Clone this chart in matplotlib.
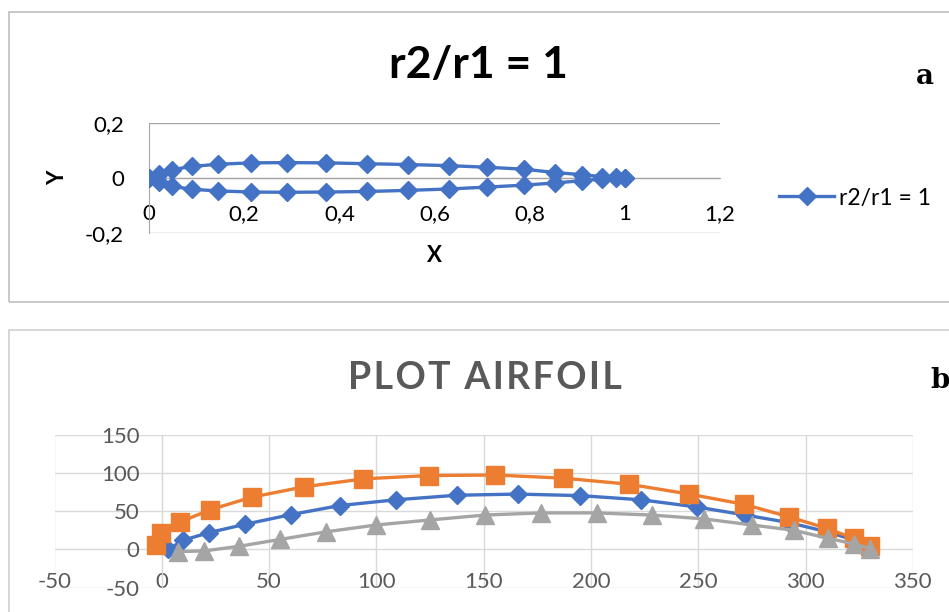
# airfoil plots (two excel-style panels)
import matplotlib
matplotlib.use("Agg")
from matplotlib import pyplot as plt
from matplotlib.patches import Rectangle

plt.rcParams['font.family'] = ['Lato', 'DejaVu Sans']
plt.rcParams['axes.unicode_minus'] = False

# panel a : r2/r1 = 1 (normalised coordinates)
x_upper = [0, 0.02, 0.048, 0.09, 0.145, 0.215, 0.289, 0.373, 0.458, 0.544, 0.630,
           0.711, 0.788, 0.853, 0.909, 0.952, 0.982, 1.0]
y_upper = [0, 0.016, 0.030, 0.042, 0.050, 0.055, 0.056, 0.055, 0.052, 0.049, 0.045,
           0.039, 0.032, 0.020, 0.012, 0.005, 0.002, 0.0]
x_lower = [0, 0.02, 0.048, 0.09, 0.145, 0.215, 0.289, 0.373, 0.458, 0.544, 0.630,
           0.711, 0.788, 0.853, 0.909, 0.952, 0.982, 1.0]
y_lower = [0, -0.015, -0.030, -0.041, -0.047, -0.051, -0.052, -0.051, -0.049, -0.045, -0.040,
           -0.033, -0.026, -0.018, -0.010, -0.004, -0.001, 0.0]
a_xticks = [0, 0.2, 0.4, 0.6, 0.8, 1.0, 1.2]
a_xlabels = ['0', '0,2', '0,4', '0,6', '0,8', '1', '1,2']
a_yticks = [-0.2, 0, 0.2]
a_ylabels = ['-0,2', '0', '0,2']

# panel b : plot airfoil
blue_x = [3, 10, 22, 39, 60, 83, 109, 137.5, 166, 195, 223.5, 249.5, 272, 292.5, 310, 322.5, 330]
blue_y = [0, 12, 22, 33, 45.5, 57.5, 65, 71, 72.5, 70.5, 65, 55.5, 45, 35, 23, 12.5, 3]
orange_x = [-2.5, -0.5, 8.6, 22.6, 42, 66.2, 94, 124.3, 155.4, 187.2, 217.6, 245.6, 271.5,
            292.5, 310, 322.4, 330]
orange_y = [6, 21, 36, 52, 68.5, 82, 92.5, 96.8, 97.5, 93.4, 85.5, 72.6, 59, 42.5, 27.5, 14.5, 4]
gray_x = [7.5, 19.8, 36, 55, 76.5, 100, 125, 150.5, 176.5, 202.6, 228.4, 252.7, 275, 294.6,
          310.6, 322.8, 330]
gray_y = [-3, -2, 4, 13, 23, 32, 38.6, 45, 47.8, 47.8, 45, 40, 32, 25, 14.5, 7, 1]
b_xticks = [-50, 0, 50, 100, 150, 200, 250, 300, 350]
b_yticks = [-50, 0, 50, 100, 150]

W, H = 949, 612
fig = plt.figure(figsize=(W / 100, H / 100), dpi=100)

# chart frames
fig.patches.append(Rectangle((9 / W, 1 - 302 / H), 1.0, 290 / H, transform=fig.transFigure,
                             fill=False, edgecolor='#bfbfbf', linewidth=1.2))
fig.patches.append(Rectangle((9 / W, -0.1), 1.0, 1 - 330 / H + 0.1, transform=fig.transFigure,
                             fill=False, edgecolor='#d0d0d0', linewidth=1.2))

# ---- panel a
ax = fig.add_axes([149 / W, 1 - 233 / H, (720 - 149) / W, 110 / H])
ax.plot(x_upper[::-1] + x_lower, y_upper[::-1] + y_lower, color='#4472C4', lw=2.4,
        marker='D', ms=9, label='r2/r1 = 1', zorder=3)
ax.set_xlim(0, 1.2)
ax.set_ylim(-0.2, 0.2)
ax.set_xticks(a_xticks)
ax.set_xticklabels(a_xlabels)
ax.set_yticks(a_yticks)
ax.set_yticklabels(a_ylabels)
ax.grid(axis='y', color='#a6a6a6', lw=1.0)
ax.set_axisbelow(True)
for s in ['top', 'right']:
    ax.spines[s].set_visible(False)
ax.spines['bottom'].set_position(('data', 0))
ax.spines['bottom'].set_color('#a6a6a6')
ax.spines['left'].set_color('#a6a6a6')
ax.tick_params(length=0, labelsize=16, colors='black')
ax.tick_params(axis='x', pad=19)
ax.tick_params(axis='y', pad=18)
ax.set_xlabel('X', fontsize=16, fontweight='bold')
ax.xaxis.set_label_coords(0.5, (233 - 255) / 110, transform=ax.transAxes)
ax.xaxis.label.set_va('center')
ax.set_ylabel('Y', fontsize=16, fontweight='bold')
ax.yaxis.set_label_coords((58 - 149) / 571, 0.5, transform=ax.transAxes)
ax.yaxis.label.set_va('center')
ax.legend(loc='center left', bbox_to_anchor=(779 / W, 1 - 198 / H), bbox_transform=fig.transFigure,
          frameon=False, fontsize=16.5, handlelength=2.4, handletextpad=0.2,
          borderpad=0, borderaxespad=0)
fig.text(478 / W, 1 - 65 / H, 'r2/r1 = 1', fontsize=32, fontweight='bold', ha='center', va='center')
fig.text(925 / W, 1 - 76 / H, 'a', fontsize=20, fontweight='bold', family='DejaVu Serif',
         ha='center', va='center')

# ---- panel b
bx = fig.add_axes([54.5 / W, 1 - 587.5 / H, (912.8 - 54.5) / W, 152.5 / H])
bx.plot(blue_x, blue_y, color='#4472C4', lw=2.4, marker='D', ms=9, zorder=3)
bx.plot(orange_x, orange_y, color='#ED7D31', lw=2.4, marker='s', ms=13, zorder=4)
bx.plot(gray_x, gray_y, color='#A5A5A5', lw=2.4, marker='^', ms=13, zorder=5)
bx.set_xlim(-50, 350)
bx.set_ylim(-50, 150)
bx.set_xticks(b_xticks)
bx.set_yticks(b_yticks)
bx.grid(True, color='#d9d9d9', lw=1.0)
bx.set_axisbelow(True)
for s in ['top', 'right', 'bottom']:
    bx.spines[s].set_visible(False)
bx.spines['left'].set_position(('data', 0))
bx.spines['left'].set_color('#d9d9d9')
bx.tick_params(length=0, labelsize=16, colors='#595959')
bx.tick_params(axis='x', pad=-11)
bx.tick_params(axis='y', pad=16)
fig.text(485 / W, 1 - 378 / H, '\u200a'.join('PLOT AIRFOIL'), fontsize=27, fontweight='bold',
         color='#595959', ha='center', va='center')
fig.text(940 / W, 1 - 380 / H, 'b', fontsize=20, fontweight='bold', family='DejaVu Serif',
         ha='center', va='center')

fig.savefig('out.png', dpi=100)
